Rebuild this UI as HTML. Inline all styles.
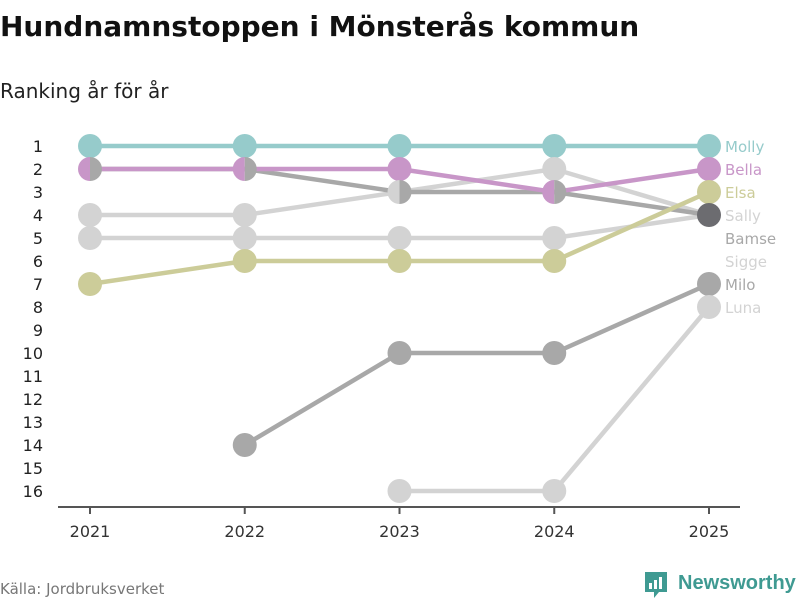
<!DOCTYPE html>
<html><head><meta charset="utf-8">
<style>
body{margin:0;background:#fff;width:800px;height:600px;overflow:hidden;font-family:"DejaVu Sans","Liberation Sans",sans-serif;}
svg text{font-family:"DejaVu Sans","Liberation Sans",sans-serif;}
</style></head>
<body>
<svg width="800" height="600">
<text x="0" y="36" font-size="28" font-weight="bold" fill="#111">Hundnamnstoppen i Mönsterås kommun</text>
<text x="0" y="98" font-size="20" fill="#222">Ranking år för år</text>
<g id="plot"></g>
<text x="0" y="594" font-size="15" fill="#777">Källa: Jordbruksverket</text>
<g>
<path d="M645 572 h22 v20 h-8 l-5 6 v-6 h-9 z" fill="#3f9a92"/>
<rect x="649" y="583" width="3" height="6" fill="#fff"/><rect x="654" y="580" width="3" height="9" fill="#fff"/><rect x="659" y="577" width="3" height="12" fill="#fff"/>
<text x="678" y="589" font-size="20" font-weight="bold" fill="#3f9a92" style="font-family:'Liberation Sans',sans-serif">Newsworthy</text>
</g>
</svg>
<script>
const years=[2021,2022,2023,2024,2025];
const names=["Molly","Bella","Elsa","Sally","Bamse","Sigge","Milo","Luna"];
const molly=[1,1,1,1,1];
const bella=[2,2,2,3,2];
const elsa=[7,6,6,6,3];
const sally=[4,4,3,2,4];
const bamse=[2,2,3,3,4];
const sigge=[5,5,5,5,4];
const milo=[null,14,10,10,7];
const luna=[null,null,16,16,8];
const yTicks=[1,2,3,4,5,6,7,8,9,10,11,12,13,14,15,16];
const values=[molly,bella,elsa,sally,bamse,sigge,milo,luna];
const colors=["#96cbcb","#c896c8","#cccc99","#d3d3d3","#a8a8a8","#d3d3d3","#a8a8a8","#d3d3d3"];
const NS="http://www.w3.org/2000/svg";
const g=document.getElementById('plot');
const x=i=>90+i*154.75;
const y=r=>146+(r-1)*23;
function mk(t,a){const e=document.createElementNS(NS,t);for(const k in a)e.setAttribute(k,a[k]);g.appendChild(e);return e;}
let ax=mk('line',{x1:58,x2:740,y1:507,y2:507,stroke:'#555','stroke-width':2});


years.forEach((yr,i)=>{
 let t=mk('line',{x1:x(i),x2:x(i),y1:507,y2:514,stroke:'#555','stroke-width':2});
 
 
 let l=mk('text',{x:x(i),y:537,'font-size':16,fill:'#333','text-anchor':'middle'});l.textContent=yr;
 
 
});
yTicks.forEach(r=>{
 let l=mk('text',{x:43,y:y(r)+6,'font-size':16,fill:'#222','text-anchor':'end'});l.textContent=r;
 
 
});
const order=[3,5,7,6,4,2,1,0];
order.forEach(s=>{
 const v=values[s];let d='';
 v.forEach((r,i)=>{if(r==null)return;d+=(d?'L':'M')+x(i)+' '+y(r);});
 let p=mk('path',{d:d,fill:'none',stroke:colors[s],'stroke-width':4.5});
 
 
});
const R=12;
years.forEach((yr,i)=>{
 const groups={};
 values.forEach((v,s)=>{if(v[i]!=null)(groups[v[i]]=groups[v[i]]||[]).push(s);});
 for(const r in groups){
  const ss=groups[r],cx=x(i),cy=y(+r);
  if(ss.length===1){
   let c=mk('circle',{cx:cx,cy:cy,r:R,fill:colors[ss[0]]});
   
   
  }else if(ss.length===2){
   let a=mk('path',{d:`M${cx} ${cy-R}A${R} ${R} 0 0 0 ${cx} ${cy+R}Z`,fill:colors[ss[0]]});
   
   
   let b=mk('path',{d:`M${cx} ${cy-R}A${R} ${R} 0 0 1 ${cx} ${cy+R}Z`,fill:colors[ss[1]]});
   
   
  }else{
   let c=mk('circle',{cx:cx,cy:cy,r:R,fill:'#6c6c70'});
   
   
  }
 }
});
const last=values.map((v,s)=>({s:s,r:v[4]})).sort((a,b)=>a.r-b.r||a.s-b.s);
let prev=-1e9;
last.forEach(o=>{
 let ly=Math.max(y(o.r),prev+23);prev=ly;
 let t=mk('text',{x:725,y:ly+6,'font-size':15,fill:colors[o.s]});t.textContent=names[o.s];
 
 
});
</script>
</body></html>
